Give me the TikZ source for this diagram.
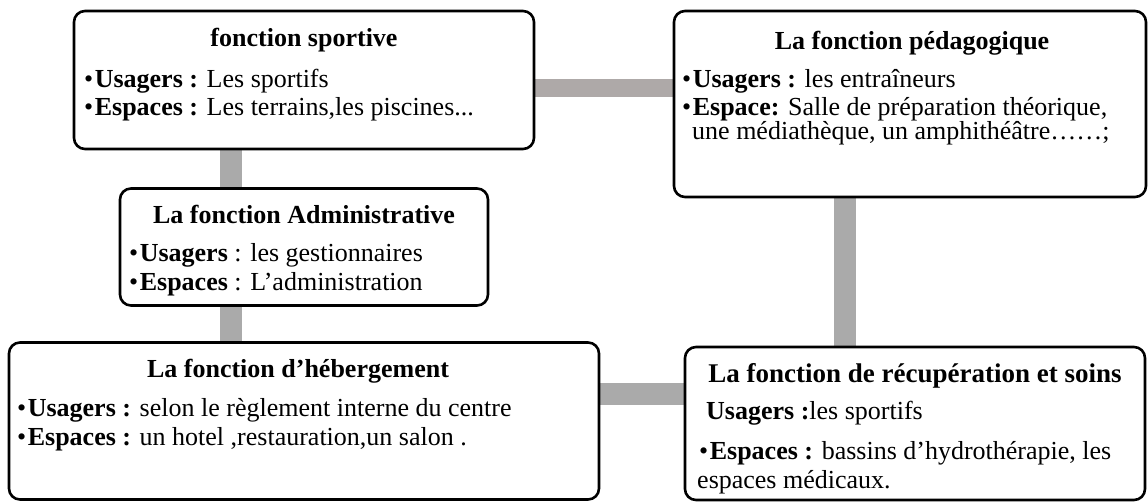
\documentclass[tikz,border=0pt]{standalone}
\usepackage{fontspec}
\setmainfont{Liberation Serif}
\usetikzlibrary{backgrounds}
\definecolor{barc}{RGB}{170,170,170}
\definecolor{barp}{RGB}{174,169,168}
\tikzset{
 box/.style={draw=black, line width=2.6pt, rounded corners=11pt, fill=white, inner sep=0pt, outer sep=0pt},
 bar/.style={line width=22pt, draw=barc},
 ttl/.style={anchor=base, inner sep=0pt, font=\fontsize{26}{30}\selectfont\bfseries},
 txt/.style={anchor=base west, inner sep=0pt, font=\fontsize{26}{30}\selectfont},
}
\newcommand{\bul}{\textbullet\kern1.5pt}
\begin{document}
\begin{tikzpicture}[x=1pt,y=-1pt]
\useasboundingbox (0,0) rectangle (1148,503);
% boxes
\node[box, minimum width=460pt, minimum height=138pt] (b1) at (304,80) {};
\node[box, minimum width=472pt, minimum height=186pt] (b2) at (910,104) {};
\node[box, minimum width=368pt, minimum height=117pt] (b3) at (304,247) {};
\node[box, minimum width=590pt, minimum height=157pt] (b4) at (304,421) {};
\node[box, minimum width=460pt, minimum height=153pt] (b5) at (915,423.5) {};
% connectors
\coordinate (xa) at (231,0);
\coordinate (xb) at (845,0);
\coordinate (ya) at (0,88);
\coordinate (yb) at (0,394);
\begin{scope}[on background layer]
\draw[bar, draw=barp, line width=18pt] (b1.east |- ya) -- (b2.west |- ya);
\draw[bar] (b1.south -| xa) -- (b3.north -| xa);
\draw[bar] (b3.south -| xa) -- (b4.north -| xa);
\draw[bar] (b2.south -| xb) -- (b5.north -| xb);
\draw[bar] (b4.east |- yb) -- (b5.west |- yb);
\end{scope}
% box 1
\node[ttl] (h1) at (304,47) {fonction sportive};
\node[txt] (t11) at (84,87) {\bul\textbf{Usagers :} Les sportifs};
\node[txt] (t12) at (84,115) {\bul\textbf{Espaces :} Les terrains,les piscines...};
% box 2
\node[ttl] (h2) at (912,50) {La fonction pédagogique};
\node[txt] (t21) at (682,88) {\bul\textbf{Usagers :} les entraîneurs};
\node[txt] (t22) at (682,115) {\bul\textbf{Espace:} Salle de préparation théorique,};
\node[txt] (t23) at (692,139) {une médiathèque, un amphithéâtre……;};
% box 3
\node[ttl] (h3) at (304,223) {La fonction Administrative};
\node[txt] (t31) at (129,261) {\bul\textbf{Usagers} : les gestionnaires};
\node[txt] (t32) at (129,290) {\bul\textbf{Espaces} : L’administration};
% box 4
\node[ttl] (h4) at (298,377) {La fonction d’hébergement};
\node[txt] (t41) at (17,416) {\bul\textbf{Usagers :} selon le règlement interne du centre};
\node[txt] (t42) at (17,445) {\bul\textbf{Espaces :} un hotel ,restauration,un salon .};
% box 5
\node[ttl, font=\fontsize{27}{30}\selectfont\bfseries] (h5) at (915,382) {La fonction de récupération et soins};
\node[txt] (t51) at (706,419) {\textbf{Usagers :}les sportifs};
\node[txt] (t52) at (699,459) {\bul\textbf{Espaces :} bassins d’hydrothérapie, les};
\node[txt] (t53) at (697,488) {espaces médicaux.};
\end{tikzpicture}
\end{document}
